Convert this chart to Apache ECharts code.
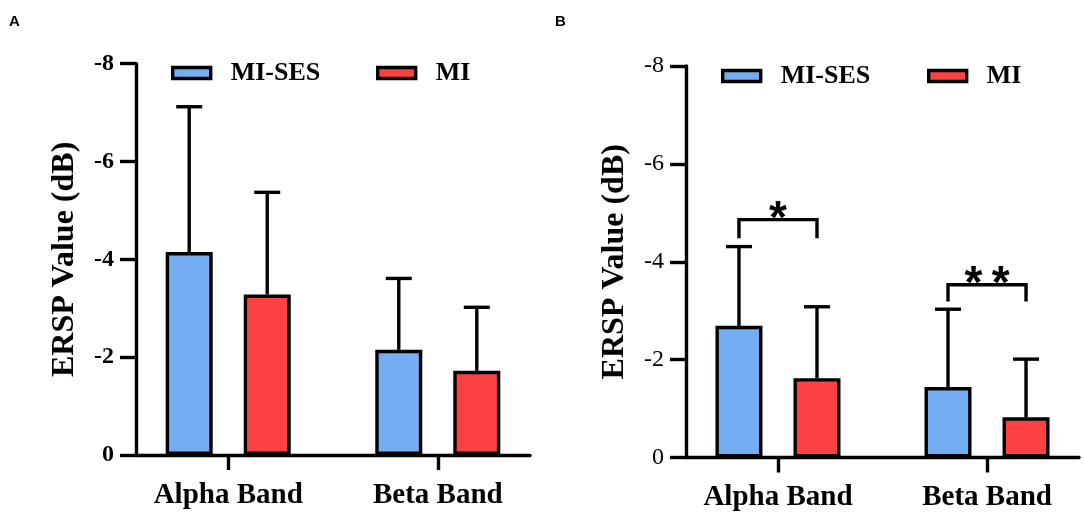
<!DOCTYPE html>
<html>
<head>
<meta charset="utf-8">
<script src="https://cdn.jsdelivr.net/npm/echarts@6/dist/echarts.min.js"></script>
<style>
html,body{margin:0;padding:0;background:#fff;}
#chart{width:1084px;height:515px;}
</style>
</head>
<body>
<div id="chart"></div>
<script>
// ---- data ----
const categories = ['Alpha Band', 'Beta Band'];
const seriesNames = ['MI-SES', 'MI'];
const yTicks = [-8, -6, -4, -2, 0];
const panelLetters = ['A', 'B'];
// Panel A
const aMeanSES = [-4.15, -2.15];
const aSdSES = [2.97, 1.46];
const aMeanMI = [-3.28, -1.72];
const aSdMI = [2.09, 1.30];
// Panel B
const bMeanSES = [-2.69, -1.44];
const bSdSES = [1.62, 1.59];
const bMeanMI = [-1.62, -0.82];
const bSdMI = [1.46, 1.19];
// Significance brackets in panel B: [category index, leg bottom value, bracket top value]
const bSigPos = [[0, -4.48, -4.86], [1, -3.19, -3.53]];
const bSigText = ['*', '*\u2009*'];

// ---- style ----
const COLORS = ['#74adf1', '#fb4142'];
const SERIF = '"Liberation Serif", "Times New Roman", serif';
const BAR_W = 47;
const GAP_FRAC = 0.66;
const OFF = BAR_W * (1 + GAP_FRAC) / 2;
const LW = 3.4;

const panels = [
  { means: [aMeanSES, aMeanMI], sds: [aSdSES, aSdMI], grid: { left: 136, top: 63.7, width: 394, height: 391.3 }, labelBold: true },
  { means: [bMeanSES, bMeanMI], sds: [bSdSES, bSdMI], grid: { left: 686, top: 66, width: 393, height: 391.5 }, labelBold: false }
];

const grids = [], xAxes = [], yAxes = [], series = [];
panels.forEach((p, pi) => {
  grids.push(Object.assign({ containLabel: false }, p.grid));
  xAxes.push({
    type: 'value', gridIndex: pi, min: -0.44, max: 1.44, position: 'bottom',
    axisLine: { show: true, onZero: false, lineStyle: { color: '#000', width: LW } },
    axisTick: { show: true, customValues: [0, 1], length: 15, lineStyle: { color: '#000', width: LW } },
    axisLabel: { show: true, customValues: [0, 1], formatter: v => categories[Math.round(v)],
      color: '#000', fontFamily: SERIF, fontWeight: 'bold', fontSize: 29, margin: 26 },
    splitLine: { show: false }
  });
  yAxes.push({
    type: 'value', gridIndex: pi, min: yTicks[0], max: yTicks[yTicks.length - 1], interval: 2, inverse: true,
    position: 'left',
    axisLine: { show: true, onZero: false, lineStyle: { color: '#000', width: LW } },
    axisTick: { show: true, length: 16, lineStyle: { color: '#000', width: LW } },
    axisLabel: { color: '#000', fontFamily: SERIF, fontWeight: p.labelBold ? 'bold' : 'normal', fontSize: 24, margin: 22 },
    splitLine: { show: false },
    name: 'ERSP Value (dB)', nameLocation: 'middle', nameGap: 55,
    nameTextStyle: { color: '#000', fontFamily: SERIF, fontWeight: 'bold', fontSize: 32 }
  });
  // error bars
  seriesNames.forEach((sn, si) => {
    const off = si === 0 ? -OFF : OFF;
    series.push({
      type: 'custom', xAxisIndex: pi, yAxisIndex: pi, z: 1, silent: true,
      data: categories.map((c, k) => [k, p.means[si][k], p.means[si][k] - p.sds[si][k]]),
      renderItem: (params, api) => {
        const a = api.coord([api.value(0), api.value(1)]);
        const b = api.coord([api.value(0), api.value(2)]);
        const cx = a[0] + off;
        return { type: 'group', children: [
          { type: 'line', shape: { x1: cx, y1: a[1], x2: cx, y2: b[1] }, style: { stroke: '#000', lineWidth: LW } },
          { type: 'line', shape: { x1: cx - 13, y1: b[1], x2: cx + 13, y2: b[1] }, style: { stroke: '#000', lineWidth: LW } }
        ] };
      }
    });
  });
  // bars
  seriesNames.forEach((sn, si) => {
    series.push({
      type: 'bar', name: sn, xAxisIndex: pi, yAxisIndex: pi, z: 2,
      barWidth: BAR_W, barGap: (GAP_FRAC * 100) + '%',
      data: categories.map((c, k) => [k, p.means[si][k]]),
      itemStyle: { color: COLORS[si], borderColor: '#000', borderWidth: LW }
    });
  });
});

// significance brackets on panel B
series.push({
  type: 'custom', xAxisIndex: 1, yAxisIndex: 1, z: 3, silent: true,
  data: bSigPos,
  renderItem: (params, api) => {
    const a = api.coord([api.value(0), api.value(1)]);
    const t = api.coord([api.value(0), api.value(2)]);
    const l = a[0] - OFF, r = a[0] + OFF;
    return { type: 'group', children: [
      { type: 'polyline', shape: { points: [[l, a[1]], [l, t[1]], [r, t[1]], [r, a[1]]] },
        style: { stroke: '#000', lineWidth: LW, fill: null } },
      { type: 'text', style: { x: a[0], y: t[1] + 1, text: bSigText[params.dataIndex],
        fill: '#000', font: 'bold 46px "Liberation Sans", Arial, sans-serif', align: 'center', verticalAlign: 'middle' } }
    ] };
  }
});

const legendBase = {
  orient: 'horizontal', icon: 'rect', itemWidth: 38, itemHeight: 11, selectedMode: false,
  itemStyle: { borderColor: '#000', borderWidth: LW },
  textStyle: { color: '#000', fontFamily: SERIF, fontWeight: 'bold', fontSize: 26, padding: [0, 0, 0, 15] }
};
const legends = [
  Object.assign({}, legendBase, { data: [seriesNames[0]], left: 166, top: 55 }),
  Object.assign({}, legendBase, { data: [seriesNames[1]], left: 371, top: 55 }),
  Object.assign({}, legendBase, { data: [seriesNames[0]], left: 716, top: 58 }),
  Object.assign({}, legendBase, { data: [seriesNames[1]], left: 922, top: 58 })
];

const titles = [
  { text: panelLetters[0], left: 9, top: 14, textStyle: { fontFamily: '"Liberation Sans", Arial, sans-serif', fontWeight: 'bold', fontSize: 15, color: '#000' }, padding: 0 },
  { text: panelLetters[1], left: 555, top: 14, textStyle: { fontFamily: '"Liberation Sans", Arial, sans-serif', fontWeight: 'bold', fontSize: 15, color: '#000' }, padding: 0 }
];

const chart = echarts.init(document.getElementById('chart'), null, { renderer: 'canvas' });
chart.setOption({
  backgroundColor: '#fff',
  animation: false,
  title: titles,
  legend: legends,
  grid: grids,
  xAxis: xAxes,
  yAxis: yAxes,
  series: series
});
</script>
</body>
</html>
